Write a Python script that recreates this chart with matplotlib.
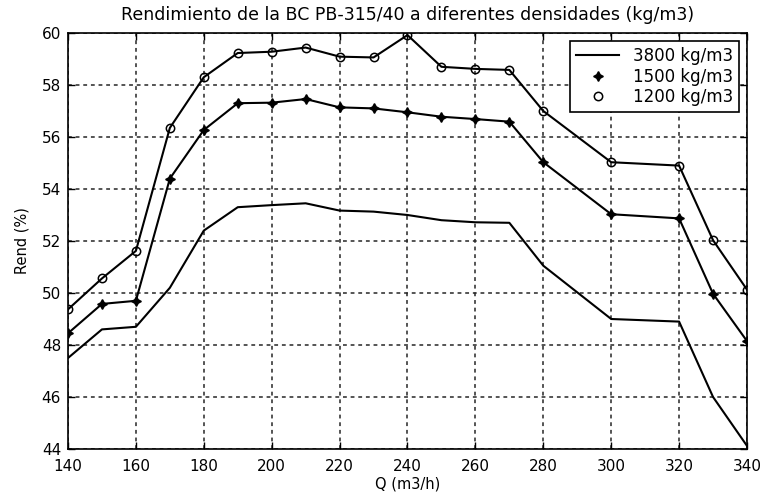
import matplotlib
matplotlib.use("Agg")
import matplotlib.pyplot as plt

plt.rcParams['font.family'] = ['DejaVu Sans']

q = [140, 150, 160, 170, 180, 190, 200, 210, 220, 230, 240, 250, 260, 270, 280, 300, 320, 330, 340]
rend_3800 = [47.5, 48.6, 48.7, 50.2, 52.4, 53.3, 53.38, 53.45, 53.17, 53.13, 53.0, 52.8, 52.72, 52.7, 51.05, 49.0, 48.9, 46.0, 44.12]
rend_1500 = [48.45, 49.58, 49.7, 54.4, 56.27, 57.3, 57.32, 57.46, 57.14, 57.1, 56.95, 56.78, 56.69, 56.59, 55.03, 53.03, 52.87, 49.97, 48.15]
rend_1200 = [49.37, 50.56, 51.62, 56.35, 58.3, 59.23, 59.28, 59.44, 59.09, 59.06, 59.92, 58.7, 58.62, 58.58, 57.0, 55.03, 54.9, 52.03, 50.13]

labels = ['3800 kg/m3', '1500 kg/m3', '1200 kg/m3']
title = 'Rendimiento de la BC PB-315/40 a diferentes densidades (kg/m3)'
xticks = [140, 160, 180, 200, 220, 240, 260, 280, 300, 320, 340]
yticks = [44, 46, 48, 50, 52, 54, 56, 58, 60]

fig = plt.figure(figsize=(7.62, 4.98), dpi=100)
ax = fig.add_axes([68/762, 1-449/498, (747-68)/762, (449-33)/498])

lw = 1.5
ax.plot(q, rend_3800, '-', color='black', lw=lw, label=labels[0])
ax.plot(q, rend_1500, '-', color='black', lw=lw)
ax.plot(q, rend_1200, '-', color='black', lw=lw)
ax.plot(q, rend_1500, linestyle='none', marker=(4, 1, 0), markersize=7,
        color='black', label=labels[1])
ax.plot(q, rend_1200, linestyle='none', marker='o', markersize=6,
        markerfacecolor='none', markeredgecolor='black', markeredgewidth=1.1,
        label=labels[2])

ax.set_xlim(140, 340)
ax.set_ylim(44, 60)
ax.set_xticks(xticks)
ax.set_yticks(yticks)
ax.tick_params(direction='in', top=True, right=True, labelsize=11, length=5,
               width=1)
ax.tick_params(axis='x', pad=7)
ax.tick_params(axis='y', pad=5)
ax.grid(True, color='0.15', linestyle=(0, (2.5, 2.5)), linewidth=1.1)
for s in ax.spines.values():
    s.set_linewidth(1.2)

ax.set_title(title, fontsize=12.5, pad=9)
ax.set_xlabel('Q (m3/h)', fontsize=10.5, labelpad=2)
ax.set_ylabel('Rend (%)', fontsize=10.5, labelpad=9)

leg = ax.legend(loc='upper right', fontsize=12, frameon=True, fancybox=False,
                edgecolor='black', framealpha=1, handlelength=2.6,
                borderaxespad=0.5, borderpad=0.35, labelspacing=0.15,
                handletextpad=0.8)
leg.get_frame().set_linewidth(1.2)

fig.savefig('out.png', dpi=100, facecolor='white')
